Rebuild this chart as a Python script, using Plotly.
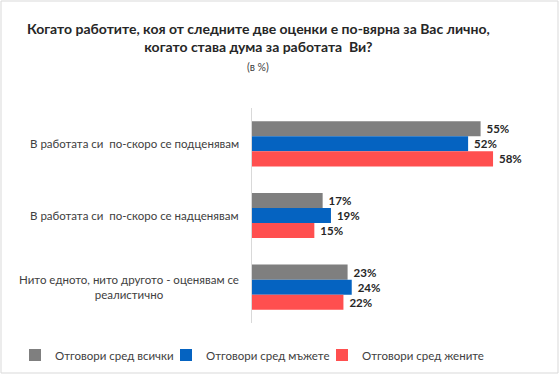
import plotly.graph_objects as go

categories = [
    "В работата си  по-скоро се подценявам",
    "В работата си  по-скоро се надценявам",
    "Нито едното, нито другото - оценявам се<br>реалистично",
]
series_names = ["Отговори сред всички", "Отговори сред мъжете", "Отговори сред жените"]
all_vals = [55, 17, 23]
men_vals = [52, 19, 24]
women_vals = [58, 15, 22]
colors = ["#7F7F7F", "#0563C1", "#FF4F4F"]

FONT = "Lato"
W, H = 559, 374
ml, mr, mt, mb = 252, 14, 108, 51
pw = W - ml - mr
ph = H - mt - mb

def px_x(px):
    return (px - ml) / pw

def px_y(py):
    return (H - mb - py) / ph

legend_ids = ["legend", "legend2", "legend3"]
legend_text_x = [55, 206, 362]  # left edge of each legend text, px

fig = go.Figure()
for name, vals, col, lid in zip(series_names, [all_vals, men_vals, women_vals], colors, legend_ids):
    fig.add_trace(go.Bar(
        y=categories, x=vals, name=name, orientation="h",
        marker=dict(color=col, line=dict(width=0)),
        text=vals, texttemplate="\u00a0<b>%{x}%</b>", textposition="outside",
        textfont=dict(family=FONT, size=11.5, color="#262626"),
        cliponaxis=False, legend=lid,
    ))

fig.update_layout(
    width=W, height=H, autosize=False,
    margin=dict(l=ml, r=mr, t=mt, b=mb, autoexpand=False),
    barmode="group", bargap=0.37, bargroupgap=0,
    paper_bgcolor="white", plot_bgcolor="white",
    font=dict(family=FONT, size=11, color="#404040"),
    xaxis=dict(range=[0, 70.5], showgrid=False, showticklabels=False, zeroline=False, showline=False),
    yaxis=dict(autorange="reversed", showticklabels=False, showgrid=False, zeroline=False,
               showline=True, linecolor="#D9D9D9", linewidth=1),
    showlegend=True,
)
for lid, tx in zip(legend_ids, legend_text_x):
    fig.update_layout({lid: dict(orientation="h", x=px_x(tx - 40), xanchor="left",
                                 y=px_y(355), yanchor="middle", itemwidth=30,
                                 font=dict(family=FONT, size=11.5, color="#404040"),
                                 bgcolor="rgba(0,0,0,0)")})

# category labels
for cat in categories:
    fig.add_annotation(x=px_x(241), xref="paper", y=cat, yref="y", text=cat, showarrow=False,
                       xanchor="right", align="center",
                       font=dict(family=FONT, size=11.5, color="#404040"))

# title
fig.add_annotation(x=px_x(258), xref="paper", y=px_y(37), yref="paper",
                   xanchor="center", yanchor="middle",
                   text="<b>Когато работите, коя от следните две оценки е по-вярна за Вас лично,<br>когато става дума за работата  Ви?</b>",
                   showarrow=False, font=dict(family=FONT, size=14, color="#262626"), align="center")
fig.add_annotation(x=px_x(258), xref="paper", y=px_y(67), yref="paper",
                   xanchor="center", yanchor="middle",
                   text="(в %)", showarrow=False, font=dict(family=FONT, size=10.5, color="#404040"))

# outer border
fig.add_shape(type="rect", xref="paper", yref="paper",
              x0=px_x(1), x1=px_x(W - 1), y0=px_y(H - 1), y1=px_y(1),
              line=dict(color="#D9D9D9", width=1), layer="below")

fig.write_html("out.html", config={"displayModeBar": False},
               post_script="document.body.style.margin='0';")
